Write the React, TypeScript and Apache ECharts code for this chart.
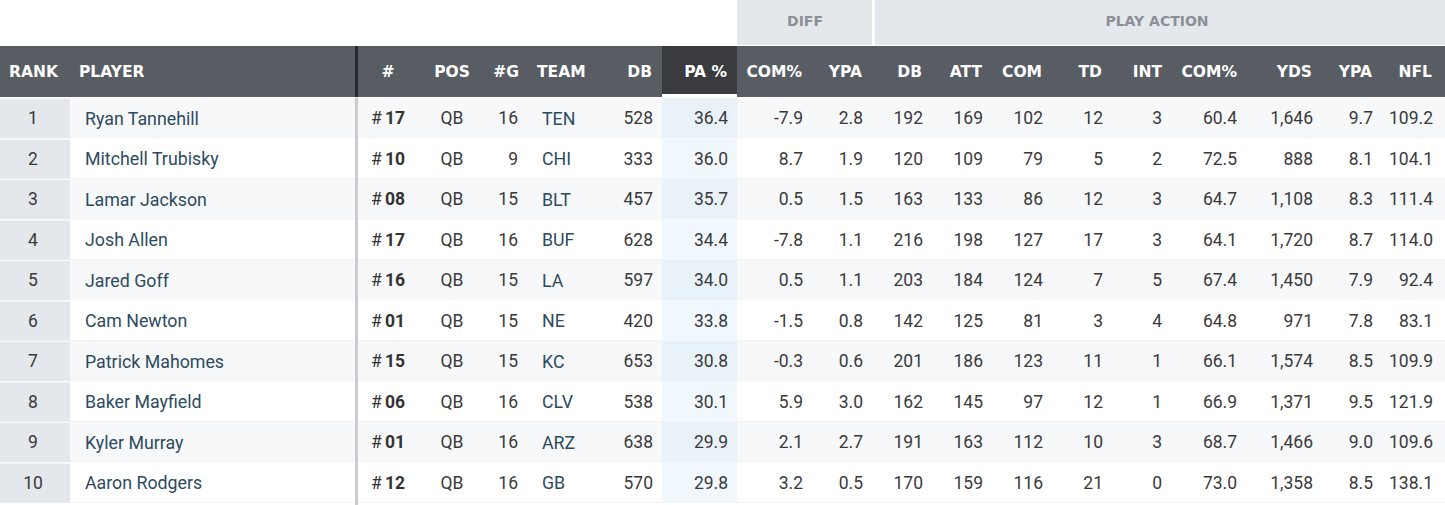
import React, { useEffect, useRef } from "react";
import * as echarts from "echarts";

const ranks = ["1", "2", "3", "4", "5", "6", "7", "8", "9", "10"];
const players = ["Ryan Tannehill", "Mitchell Trubisky", "Lamar Jackson", "Josh Allen", "Jared Goff", "Cam Newton", "Patrick Mahomes", "Baker Mayfield", "Kyler Murray", "Aaron Rodgers"];
const jerseys = ["17", "10", "08", "17", "16", "01", "15", "06", "01", "12"];
const positions = ["QB", "QB", "QB", "QB", "QB", "QB", "QB", "QB", "QB", "QB"];
const games = ["16", "9", "15", "16", "15", "15", "15", "16", "16", "16"];
const teams = ["TEN", "CHI", "BLT", "BUF", "LA", "NE", "KC", "CLV", "ARZ", "GB"];
const dropbacks = ["528", "333", "457", "628", "597", "420", "653", "538", "638", "570"];
const paPct = ["36.4", "36.0", "35.7", "34.4", "34.0", "33.8", "30.8", "30.1", "29.9", "29.8"];
const diffComPct = ["-7.9", "8.7", "0.5", "-7.8", "0.5", "-1.5", "-0.3", "5.9", "2.1", "3.2"];
const diffYpa = ["2.8", "1.9", "1.5", "1.1", "1.1", "0.8", "0.6", "3.0", "2.7", "0.5"];
const paDb = ["192", "120", "163", "216", "203", "142", "201", "162", "191", "170"];
const paAtt = ["169", "109", "133", "198", "184", "125", "186", "145", "163", "159"];
const paCom = ["102", "79", "86", "127", "124", "81", "123", "97", "112", "116"];
const paTd = ["12", "5", "12", "17", "7", "3", "11", "12", "10", "21"];
const paInt = ["3", "2", "3", "3", "5", "4", "1", "1", "3", "0"];
const paComPct = ["60.4", "72.5", "64.7", "64.1", "67.4", "64.8", "66.1", "66.9", "68.7", "73.0"];
const paYds = ["1,646", "888", "1,108", "1,720", "1,450", "971", "1,574", "1,371", "1,466", "1,358"];
const paYpa = ["9.7", "8.1", "8.3", "8.7", "7.9", "7.8", "8.5", "9.5", "9.0", "8.5"];
const paNfl = ["109.2", "104.1", "111.4", "114.0", "92.4", "83.1", "109.9", "121.9", "109.6", "138.1"];

const groupHeaders = ["DIFF", "PLAY ACTION"];

const W = 1445;
const H = 505;

type Col = { header: string; values: string[]; hx: number; hAlign: string; vx: number; vAlign: string; kind?: string };

const columns: Col[] = [
  { header: "RANK", values: ranks, hx: 9, hAlign: "left", vx: 33, vAlign: "center" },
  { header: "PLAYER", values: players, hx: 79, hAlign: "left", vx: 85, vAlign: "left", kind: "name" },
  { header: "#", values: jerseys, hx: 388, hAlign: "center", vx: 388, vAlign: "center", kind: "jersey" },
  { header: "POS", values: positions, hx: 452, hAlign: "center", vx: 452, vAlign: "center" },
  { header: "#G", values: games, hx: 519, hAlign: "right", vx: 518, vAlign: "right" },
  { header: "TEAM", values: teams, hx: 537, hAlign: "left", vx: 542, vAlign: "left", kind: "name" },
  { header: "DB", values: dropbacks, hx: 652, hAlign: "right", vx: 653, vAlign: "right" },
  { header: "PA %", values: paPct, hx: 727, hAlign: "right", vx: 728, vAlign: "right" },
  { header: "COM%", values: diffComPct, hx: 802, hAlign: "right", vx: 803, vAlign: "right" },
  { header: "YPA", values: diffYpa, hx: 862, hAlign: "right", vx: 863, vAlign: "right" },
  { header: "DB", values: paDb, hx: 922, hAlign: "right", vx: 923, vAlign: "right" },
  { header: "ATT", values: paAtt, hx: 982, hAlign: "right", vx: 983, vAlign: "right" },
  { header: "COM", values: paCom, hx: 1042, hAlign: "right", vx: 1043, vAlign: "right" },
  { header: "TD", values: paTd, hx: 1102, hAlign: "right", vx: 1103, vAlign: "right" },
  { header: "INT", values: paInt, hx: 1162, hAlign: "right", vx: 1162, vAlign: "right" },
  { header: "COM%", values: paComPct, hx: 1237, hAlign: "right", vx: 1237, vAlign: "right" },
  { header: "YDS", values: paYds, hx: 1312, hAlign: "right", vx: 1313, vAlign: "right" },
  { header: "YPA", values: paYpa, hx: 1372, hAlign: "right", vx: 1373, vAlign: "right" },
  { header: "NFL", values: paNfl, hx: 1432, hAlign: "right", vx: 1433, vAlign: "right" },
];

function buildGraphics() {
  const g: any[] = [];
  const FONT = "Roboto, 'Noto Sans', sans-serif";
  const HFONT = "'DejaVu Sans', Roboto, sans-serif";
  const headTop = 46;
  const headH = 51;
  const bodyTop = 98;
  const rowH = 40.5;

  // group header bands
  g.push({ type: "rect", shape: { x: 737, y: 0, width: 135, height: 45 }, style: { fill: "#e4e7eb" } });
  g.push({ type: "rect", shape: { x: 875, y: 0, width: W - 875, height: 45 }, style: { fill: "#e4e7eb" } });
  g.push({ type: "text", x: 805, y: 21, style: { text: groupHeaders[0], fill: "#8c9096", font: `bold 14px ${HFONT}`, align: "center", verticalAlign: "middle" } });
  g.push({ type: "text", x: 1157, y: 21, style: { text: groupHeaders[1], fill: "#8c9096", font: `bold 14px ${HFONT}`, align: "center", verticalAlign: "middle" } });

  // header row
  g.push({ type: "rect", shape: { x: 0, y: headTop, width: W, height: headH }, style: { fill: "#585c63" } });
  g.push({ type: "rect", shape: { x: 662, y: headTop, width: 75, height: headH }, style: { fill: "#393b3f" } });
  g.push({ type: "rect", shape: { x: 662, y: 94, width: 75, height: 3 }, style: { fill: "#ffffff" } });

  // body rows
  for (let i = 0; i < ranks.length; i++) {
    const top = bodyTop + i * rowH;
    const odd = i % 2 === 0;
    g.push({ type: "rect", shape: { x: 0, y: top, width: W, height: rowH }, style: { fill: odd ? "#f7f8fa" : "#ffffff" } });
    g.push({ type: "rect", shape: { x: 0, y: top + rowH - 1, width: W, height: 1 }, style: { fill: "#f1f2f4" } });
    g.push({ type: "rect", shape: { x: 0, y: top + 1, width: 70, height: rowH - 1.5 }, style: { fill: "#e4e7eb" } });
    g.push({ type: "rect", shape: { x: 662, y: top, width: 75, height: rowH }, style: { fill: odd ? "#eaf2f9" : "#f0f7fd" } });
  }

  // divider
  g.push({ type: "rect", shape: { x: 355, y: headTop, width: 3, height: headH }, style: { fill: "#26282c" } });
  g.push({ type: "rect", shape: { x: 355, y: bodyTop, width: 3, height: H - bodyTop }, style: { fill: "#c9ccd1" } });

  // header labels
  for (const c of columns) {
    g.push({ type: "text", x: c.hx, y: 72, style: { text: c.header, fill: "#ffffff", font: `bold 15.5px ${HFONT}`, align: c.hAlign, verticalAlign: "middle" } });
  }

  // cell texts
  for (const c of columns) {
    for (let i = 0; i < c.values.length; i++) {
      const cy = bodyTop + i * rowH + rowH / 2;
      if (c.kind === "jersey") {
        g.push({
          type: "text", x: c.vx, y: cy,
          style: {
            text: `{h|#} {n|${c.values[i]}}`, align: "center", verticalAlign: "middle",
            rich: {
              h: { fill: "#333333", font: `17.5px ${FONT}` },
              n: { fill: "#333333", font: `bold 17.5px ${FONT}` },
            },
          },
        });
      } else {
        const isName = c.kind === "name";
        g.push({
          type: "text", x: c.vx, y: cy,
          style: { text: c.values[i], fill: isName ? "#2d4b5f" : "#3a3a3a", font: `${isName ? 17.8 : 17.5}px ${FONT}`, align: c.vAlign, verticalAlign: "middle" },
        });
      }
    }
  }
  return g;
}

export default function App() {
  const ref = useRef<HTMLDivElement>(null);
  useEffect(() => {
    document.body.style.margin = "0";
    const chart = echarts.init(ref.current!, null, { renderer: "svg" });
    chart.setOption({ animation: false, graphic: { elements: buildGraphics() } });
    return () => chart.dispose();
  }, []);
  return <div ref={ref} style={{ position: "absolute", left: 0, top: 0, width: W, height: H, background: "#ffffff" }} />;
}
